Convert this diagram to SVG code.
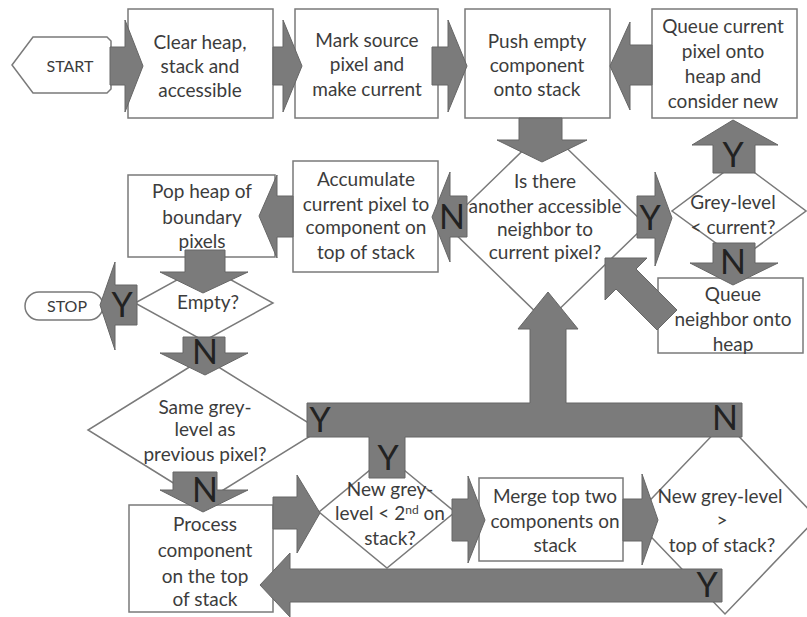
<svg xmlns="http://www.w3.org/2000/svg" width="807" height="617" viewBox="0 0 807 617">
<style>
.box{fill:#fff;stroke:#7a7a7a;stroke-width:1.5}
.arr{fill:#7b7b7b;stroke:#666;stroke-width:1}
.t{font-family:Lato,"Open Sans",sans-serif;font-size:19px;fill:#3c3c3c;text-anchor:middle}
.s{font-family:Lato,"Open Sans",sans-serif;font-size:16px;fill:#3c3c3c;text-anchor:middle}
.lab{font-family:Lato,"Open Sans",sans-serif;font-size:34px;fill:#222;text-anchor:middle}
</style>
<rect width="807" height="617" fill="#fff"/>
<g id="start"><polygon class="box" points="12,65 33,37 107,37 111,41 111,89 107,93 33,93"/><text class="s" x="70" y="72">START</text></g>
<g id="clear"><rect class="box" x="128" y="9" width="145" height="109"/><text class="t" x="200" y="49">Clear heap,</text><text class="t" x="200" y="73">stack and</text><text class="t" x="200" y="97">accessible</text></g>
<g id="mark"><rect class="box" x="295" y="9" width="143" height="109"/><text class="t" x="367" y="47">Mark source</text><text class="t" x="367" y="71">pixel and</text><text class="t" x="367" y="96">make current</text></g>
<g id="push"><rect class="box" x="465" y="9" width="145" height="109"/><text class="t" x="537" y="48">Push empty</text><text class="t" x="537" y="72">component</text><text class="t" x="537" y="96">onto stack</text></g>
<g id="queuecur"><rect class="box" x="652" y="9" width="145" height="109"/><text class="t" x="723" y="33">Queue current</text><text class="t" x="723" y="58">pixel onto</text><text class="t" x="723" y="83">heap and</text><text class="t" x="723" y="108">consider new</text></g>
<g id="neighbor"><polygon class="box" points="546,128 646,225 546,322 446,225"/><text class="t" x="545" y="188">Is there</text><text class="t" x="545" y="213">another accessible</text><text class="t" x="545" y="236">neighbor to</text><text class="t" x="545" y="259">current pixel?</text></g>
<g id="accum"><rect class="box" x="293" y="161" width="145" height="111"/><text class="t" x="366" y="186">Accumulate</text><text class="t" x="366" y="211">current pixel to</text><text class="t" x="366" y="234">component on</text><text class="t" x="366" y="259">top of stack</text></g>
<g id="greylevel"><polygon class="box" points="739,161 806,211 739,260 672,211"/><text class="t" x="733" y="209">Grey-level</text><text class="t" x="733" y="234">&lt; current?</text></g>
<g id="queuenb"><rect class="box" x="658" y="278" width="145" height="75"/><text class="t" x="733" y="301">Queue</text><text class="t" x="733" y="326">neighbor onto</text><text class="t" x="733" y="351">heap</text></g>
<g id="pop"><rect class="box" x="128" y="175" width="147" height="82"/><text class="t" x="202" y="198">Pop heap of</text><text class="t" x="202" y="224">boundary</text><text class="t" x="202" y="248">pixels</text></g>
<g id="empty"><polygon class="box" points="204,265 273,303 204,341 135,303"/><text class="t" x="208" y="309">Empty?</text></g>
<g id="stop"><rect class="box" x="25" y="292" width="78" height="28" rx="14"/><text class="s" x="67" y="312">STOP</text></g>
<g id="same"><polygon class="box" points="204,358 320,430 204,502 88,430"/><text class="t" x="205" y="414">Same grey-</text><text class="t" x="205" y="436">level as</text><text class="t" x="205" y="461">previous pixel?</text></g>
<g id="process"><rect class="box" x="129" y="505" width="144" height="107"/><text class="t" x="205" y="531">Process</text><text class="t" x="205" y="557">component</text><text class="t" x="205" y="583">on the top</text><text class="t" x="205" y="606">of stack</text></g>
<g id="newlt"><polygon class="box" points="387,456 455,512 387,568 319,512"/><text class="t" x="390" y="496">New grey-</text><text class="t" x="390" y="520">level &lt; 2<tspan font-size="12" dy="-6">nd</tspan><tspan dy="6"> on</tspan></text><text class="t" x="390" y="545">stack?</text></g>
<g id="merge"><rect class="box" x="479" y="478" width="144" height="83"/><text class="t" x="555" y="503">Merge top two</text><text class="t" x="555" y="528">components on</text><text class="t" x="555" y="552">stack</text></g>
<g id="newgt"><polygon class="box" points="725,422 817,518 725,614 633,518"/><text class="t" x="720" y="503">New grey-level</text><text class="t" x="722" y="527">&gt;</text><text class="t" x="722" y="552">top of stack?</text></g>
<g id="connectors">
<polygon class="arr" points="110,47 125,47 125,20 143,66 125,112 125,85 110,85"/>
<polygon class="arr" points="273,47 283,47 283,20 302,66 283,112 283,85 273,85"/>
<polygon class="arr" points="432,47 448,47 448,20 467,66 448,112 448,85 432,85"/>
<polygon class="arr" points="652,45 630,45 630,22 610,66 630,110 630,85 652,85"/>
<polygon class="arr" points="519,118 562,118 562,140 587,140 542,162 497,140 519,140"/>
<polygon class="arr" points="467,196 450,196 450,172 432,217 450,262 450,237 467,237"/>
<polygon class="arr" points="293,196 277,196 277,175 259,216 277,258 277,237 293,237"/>
<polygon class="arr" points="185,250 225,250 225,272 248,272 203,293 160,272 185,272"/>
<polygon class="arr" points="137,285 115,285 115,262 100,305 115,350 115,325 137,325"/>
<polygon class="arr" points="183,337 225,337 225,353 248,353 205,375 160,353 183,353"/>
<polygon class="arr" points="173,472 217,472 217,490 248,490 203,512 160,490 173,490"/>
<polygon class="arr" points="273,497 297,497 297,475 320,513 297,553 297,529 273,529"/>
<polygon class="arr" points="452,499 468,499 468,476 485,520 468,563 468,541 452,541"/>
<polygon class="arr" points="623,499 642,499 642,474 658,520 642,565 642,541 623,541"/>
<polygon class="arr" points="722,569 290,569 290,553 260,585 290,617 290,602 722,602"/>
<polygon class="arr" points="637,196 655,196 655,172 672,218 655,266 655,238 637,238"/>
<polygon class="arr" points="713,173 755,173 755,145 778,145 733,120 692,145 713,145"/>
<polygon class="arr" points="713,243 755,243 755,263 778,263 733,285 690,263 713,263"/>
<polygon class="arr" points="605,258 647,258 636,269 677,310 657,330 616,289 605,300"/>
<polygon class="arr" points="307,403 530,403 530,329 518,329 548,292 578,329 566,329 566,403 742,403 742,437 405,437 405,478 369,478 369,437 307,437"/>
<text class="lab" x="452" y="229">N</text>
<text class="lab" x="650" y="230">Y</text>
<text class="lab" x="733" y="167">Y</text>
<text class="lab" x="733" y="274">N</text>
<text class="lab" x="122" y="317">Y</text>
<text class="lab" x="205" y="364">N</text>
<text class="lab" x="320" y="432">Y</text>
<text class="lab" x="725" y="430">N</text>
<text class="lab" x="388" y="470">Y</text>
<text class="lab" x="205" y="502">N</text>
<text class="lab" x="707" y="597">Y</text>
</g>
</svg>
